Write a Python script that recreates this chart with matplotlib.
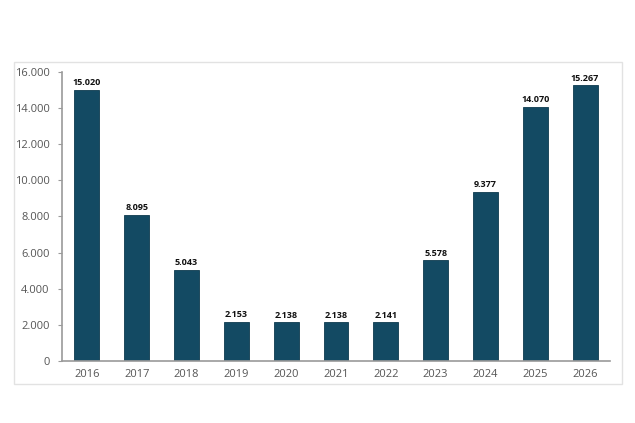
import matplotlib
matplotlib.use("Agg")
import matplotlib.pyplot as plt
from matplotlib.patches import Rectangle

years = ["2016", "2017", "2018", "2019", "2020", "2021", "2022", "2023", "2024", "2025", "2026"]
values = [15020, 8095, 5043, 2153, 2138, 2138, 2141, 5578, 9377, 14070, 15267]
labels = ["15.020", "8.095", "5.043", "2.153", "2.138", "2.138", "2.141", "5.578", "9.377", "14.070", "15.267"]
yticks = [0, 2000, 4000, 6000, 8000, 10000, 12000, 14000, 16000]
ytick_labels = ["0", "2.000", "4.000", "6.000", "8.000", "10.000", "12.000", "14.000", "16.000"]

plt.rcParams['font.family'] = ['Open Sans', 'DejaVu Sans']

fig = plt.figure(figsize=(6.35, 4.23), dpi=100)
fig.patch.set_facecolor("white")
# outer light frame
fig.patches.append(Rectangle((14/635, 1-384/423), (622-14)/635, (384-62)/423,
                             transform=fig.transFigure, fill=False,
                             edgecolor="#e2e2e2", linewidth=1.0))

ax = fig.add_axes([62/635, 1-361/423, (610-62)/635, (361-72)/423])
x = list(range(len(years)))
ax.bar(x, values, width=0.5, color="#134a63", edgecolor="#0d3a4f", linewidth=0.6)
for xi, v, lab in zip(x, values, labels):
    ax.text(xi, v + 150, lab, ha="center", va="bottom", fontsize=6.5,
            fontweight="bold", color="#111111")

ax.set_xlim(-0.5, 10.5)
ax.set_ylim(0, 16000)
ax.set_yticks(yticks)
ax.set_yticklabels(ytick_labels)
ax.set_xticks(x)
ax.set_xticklabels(years)
for s in ["top", "right"]:
    ax.spines[s].set_visible(False)
ax.spines["left"].set_color("#9a9a9a")
ax.spines["left"].set_linewidth(1.2)
ax.spines["bottom"].set_color("#9a9a9a")
ax.spines["bottom"].set_linewidth(1.2)
ax.tick_params(axis="y", length=3, width=0.8, color="#9a9a9a", labelsize=8,
               labelcolor="#555555", pad=6)
ax.tick_params(axis="x", length=0, labelsize=8, labelcolor="#555555", pad=6)

fig.savefig("out.png", dpi=100, facecolor="white")
